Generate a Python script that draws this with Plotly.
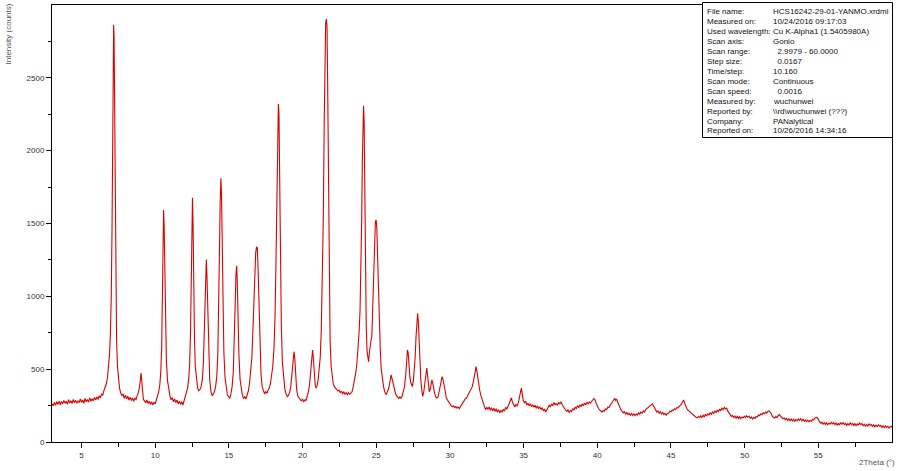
import plotly.graph_objects as go

# ---- data: (2theta, counts), by region ----
region_3_to_7 = [
    (3.00, 262), (3.08, 248), (3.16, 271), (3.24, 252), (3.32, 276), (3.40, 258), (3.48, 281), (3.56, 255),
    (3.64, 278), (3.72, 262), (3.80, 286), (3.88, 266), (3.96, 280), (4.04, 259), (4.12, 290), (4.20, 268),
    (4.28, 284), (4.36, 264), (4.44, 293), (4.52, 270), (4.60, 286), (4.68, 266), (4.76, 281), (4.84, 271),
    (4.92, 295), (5.00, 272), (5.08, 288), (5.16, 266), (5.24, 299), (5.32, 276), (5.40, 291), (5.48, 274),
    (5.56, 303), (5.64, 280), (5.72, 297), (5.80, 282), (5.88, 306), (5.96, 288), (6.04, 310), (6.12, 292),
    (6.20, 318), (6.28, 304), (6.36, 330), (6.44, 322), (6.52, 352), (6.60, 372),
    (6.68, 398), (6.76, 440), (6.84, 520), (6.90, 600), (6.96, 740), (7.02, 1000), (7.07, 1450), (7.11, 2100),
    (7.15, 2700), (7.18, 2864), (7.21, 2780), (7.25, 2250), (7.29, 1500), (7.33, 1000), (7.38, 700), (7.44, 520),
    (7.50, 430), (7.58, 370), (7.66, 338),
]

region_7_to_12 = [
    (7.74, 318), (7.82, 330), (7.90, 300), (7.98, 322), (8.06, 296), (8.14, 314), (8.22, 288), (8.30, 308),
    (8.38, 284), (8.46, 302), (8.54, 280), (8.62, 300), (8.70, 292), (8.78, 318), (8.86, 340), (8.94, 380),
    (9.00, 440), (9.04, 474), (9.08, 430), (9.13, 340), (9.20, 292), (9.28, 282), (9.36, 268), (9.44, 288),
    (9.52, 264), (9.60, 280), (9.68, 258), (9.76, 276), (9.84, 256), (9.92, 272), (10.00, 262), (10.08, 290),
    (10.16, 312), (10.24, 345), (10.32, 400), (10.38, 480), (10.44, 650), (10.49, 950), (10.53, 1350),
    (10.57, 1593), (10.61, 1480), (10.65, 1150), (10.70, 800), (10.76, 560), (10.84, 420), (10.92, 350),
    (11.00, 318), (11.08, 290), (11.16, 304), (11.24, 276), (11.32, 296), (11.40, 270), (11.48, 288),
    (11.56, 262), (11.64, 280), (11.72, 258), (11.80, 276), (11.88, 254), (11.96, 282),
]

region_12_to_17 = [
    (12.04, 300), (12.12, 330), (12.20, 370), (12.28, 440), (12.34, 540), (12.40, 760), (12.45, 1100),
    (12.49, 1500), (12.53, 1676), (12.57, 1500), (12.61, 1100), (12.66, 750), (12.72, 520), (12.80, 410),
    (12.88, 370), (12.96, 352), (13.04, 360), (13.12, 380), (13.20, 430), (13.27, 540), (13.33, 750),
    (13.38, 1000), (13.43, 1200), (13.47, 1252), (13.51, 1150), (13.56, 900), (13.62, 620), (13.70, 430),
    (13.78, 350), (13.86, 318), (13.94, 330), (14.02, 345), (14.10, 380), (14.18, 450), (14.25, 600),
    (14.31, 900), (14.36, 1300), (14.41, 1650), (14.46, 1811), (14.50, 1700), (14.55, 1300), (14.60, 900),
    (14.66, 620), (14.74, 440), (14.82, 360), (14.90, 322), (14.98, 312), (15.06, 300), (15.14, 330),
    (15.22, 380), (15.30, 480), (15.37, 680), (15.43, 950), (15.48, 1150), (15.53, 1210), (15.57, 1100),
    (15.62, 850), (15.68, 600), (15.76, 430), (15.84, 350), (15.92, 318), (16.00, 300), (16.08, 310),
    (16.16, 296), (16.24, 322), (16.32, 350), (16.40, 400), (16.48, 470), (16.56, 580), (16.63, 760),
    (16.70, 1000), (16.77, 1220), (16.82, 1300), (16.88, 1340), (16.93, 1330), (16.98, 1200), (17.04, 920),
    (17.10, 650), (17.18, 470), (17.26, 380), (17.34, 345), (17.42, 330),
]

region_17_to_23 = [
    (17.50, 345), (17.58, 335), (17.66, 355), (17.74, 370), (17.82, 400), (17.90, 450), (17.98, 520),
    (18.06, 640), (18.13, 850), (18.20, 1250), (18.26, 1800), (18.31, 2200), (18.36, 2321), (18.40, 2250),
    (18.45, 1800), (18.50, 1250), (18.56, 800), (18.63, 550), (18.72, 420), (18.80, 360), (18.88, 330),
    (18.96, 312), (19.04, 320), (19.12, 340), (19.20, 380), (19.28, 460), (19.35, 560), (19.42, 620),
    (19.47, 580), (19.53, 450), (19.60, 360), (19.68, 315), (19.76, 300), (19.84, 292), (19.92, 282),
    (20.00, 295), (20.08, 275), (20.16, 290), (20.24, 285), (20.32, 310), (20.40, 345), (20.48, 400),
    (20.55, 480), (20.62, 590), (20.68, 632), (20.73, 580), (20.79, 460), (20.86, 390), (20.92, 370),
    (20.98, 385), (21.05, 420), (21.12, 480), (21.20, 580), (21.27, 760), (21.34, 1050), (21.41, 1550),
    (21.47, 2200), (21.52, 2700), (21.57, 2880), (21.62, 2903), (21.66, 2850), (21.70, 2500), (21.75, 1800),
    (21.81, 1100), (21.87, 700), (21.94, 520), (22.00, 440), (22.08, 400), (22.16, 380), (22.24, 370),
    (22.32, 360), (22.40, 350), (22.48, 356), (22.56, 340), (22.64, 348), (22.72, 332), (22.80, 344),
    (22.88, 328), (22.96, 340),
]

region_23_to_30 = [
    (23.04, 325), (23.12, 338), (23.20, 328), (23.28, 336), (23.36, 345), (23.44, 380), (23.52, 420),
    (23.60, 470), (23.68, 530), (23.76, 620), (23.84, 760), (23.90, 900), (23.96, 1150), (24.01, 1500),
    (24.06, 1950), (24.10, 2250), (24.14, 2308), (24.18, 2200), (24.22, 1800), (24.27, 1200), (24.32, 800),
    (24.38, 620), (24.44, 560), (24.48, 551), (24.54, 620), (24.60, 690), (24.65, 700), (24.70, 720),
    (24.76, 900), (24.82, 1150), (24.88, 1400), (24.94, 1510), (24.99, 1525), (25.04, 1470), (25.10, 1250),
    (25.16, 1000), (25.22, 800), (25.28, 620), (25.34, 500), (25.42, 420), (25.50, 378), (25.58, 345),
    (25.66, 325), (25.74, 340), (25.82, 360), (25.90, 395), (25.96, 430), (26.01, 460), (26.06, 440),
    (26.12, 410), (26.20, 370), (26.28, 345), (26.36, 320), (26.44, 305), (26.52, 298), (26.60, 310),
    (26.68, 300), (26.76, 315), (26.84, 340), (26.92, 380), (27.00, 460), (27.06, 560), (27.12, 632),
    (27.17, 610), (27.22, 520), (27.28, 450), (27.34, 410), (27.40, 385), (27.45, 380), (27.52, 420),
    (27.58, 480), (27.64, 580), (27.70, 720), (27.76, 840), (27.81, 884), (27.86, 820), (27.91, 680),
    (27.97, 520), (28.03, 420), (28.09, 360), (28.15, 312), (28.22, 340), (28.30, 390), (28.37, 460),
    (28.43, 508), (28.48, 460), (28.54, 390), (28.60, 345), (28.66, 360), (28.72, 390), (28.78, 426),
    (28.84, 400), (28.90, 360), (28.96, 335), (29.04, 310), (29.12, 302), (29.20, 310), (29.28, 350),
    (29.36, 400), (29.42, 430), (29.47, 449), (29.53, 430), (29.60, 400), (29.68, 350), (29.76, 300),
    (29.84, 285), (29.92, 272),
]

region_30_to_38 = [
    (30.00, 262), (30.08, 250), (30.16, 242), (30.24, 248), (30.32, 236), (30.40, 244), (30.48, 232),
    (30.56, 240), (30.64, 230), (30.72, 245), (30.80, 258), (30.88, 270), (30.96, 282), (31.04, 296),
    (31.12, 302), (31.20, 318), (31.28, 335), (31.36, 350), (31.44, 358), (31.52, 380), (31.60, 420),
    (31.67, 470), (31.73, 505), (31.78, 517), (31.84, 480), (31.90, 430), (31.96, 390), (32.02, 357),
    (32.10, 320), (32.18, 290), (32.26, 265), (32.34, 245), (32.42, 222), (32.50, 238), (32.58, 224),
    (32.66, 240), (32.74, 218), (32.82, 236), (32.90, 214), (32.98, 232), (33.06, 210), (33.14, 228),
    (33.22, 206), (33.30, 222), (33.38, 200), (33.46, 218), (33.54, 204), (33.62, 225), (33.70, 212),
    (33.78, 238), (33.86, 226), (33.94, 252), (34.02, 262), (34.10, 285), (34.17, 302), (34.24, 275),
    (34.32, 252), (34.40, 240), (34.48, 258), (34.56, 248), (34.64, 268), (34.72, 300), (34.79, 345),
    (34.85, 371), (34.91, 330), (34.98, 285), (35.06, 268), (35.14, 280), (35.22, 254), (35.30, 266),
    (35.38, 248), (35.46, 262), (35.54, 242), (35.62, 256), (35.70, 238), (35.78, 252), (35.86, 232),
    (35.94, 248), (36.02, 228), (36.10, 242), (36.18, 222), (36.26, 236), (36.34, 214), (36.42, 226),
    (36.50, 206), (36.58, 224), (36.66, 236), (36.74, 252), (36.82, 242), (36.90, 262), (36.98, 250),
    (37.06, 272), (37.14, 256), (37.22, 264), (37.30, 252), (37.38, 270), (37.46, 262), (37.54, 276),
    (37.62, 255), (37.70, 240), (37.78, 226), (37.86, 218), (37.94, 210),
]

region_38_to_47 = [
    (38.02, 222), (38.10, 200), (38.18, 216), (38.26, 210), (38.34, 230), (38.42, 218), (38.50, 240),
    (38.58, 228), (38.66, 250), (38.74, 236), (38.82, 256), (38.90, 242), (38.98, 262), (39.06, 250),
    (39.14, 268), (39.22, 254), (39.30, 272), (39.38, 262), (39.46, 276), (39.54, 268), (39.62, 282),
    (39.70, 290), (39.78, 298), (39.84, 290), (39.92, 268), (40.00, 246), (40.08, 232), (40.16, 220),
    (40.24, 214), (40.32, 205), (40.40, 218), (40.48, 212), (40.56, 228), (40.64, 222), (40.72, 240),
    (40.80, 236), (40.88, 252), (40.96, 262), (41.04, 278), (41.12, 290), (41.18, 298), (41.24, 286),
    (41.30, 295), (41.36, 280), (41.44, 256), (41.52, 236), (41.60, 222), (41.68, 212), (41.76, 200),
    (41.84, 208), (41.92, 192), (42.00, 202), (42.08, 188), (42.16, 198), (42.24, 184), (42.32, 196),
    (42.40, 182), (42.48, 194), (42.56, 180), (42.64, 192), (42.72, 184), (42.80, 200), (42.88, 190),
    (42.96, 206), (43.04, 198), (43.12, 214), (43.20, 206), (43.28, 222), (43.36, 230), (43.44, 236),
    (43.52, 246), (43.60, 255), (43.68, 258), (43.74, 262), (43.80, 250), (43.88, 232), (43.96, 220),
    (44.04, 206), (44.12, 214), (44.20, 198), (44.28, 208), (44.36, 192), (44.44, 202), (44.52, 188),
    (44.60, 196), (44.68, 184), (44.76, 196), (44.84, 198), (44.92, 212), (45.00, 208), (45.08, 220),
    (45.16, 216), (45.24, 228), (45.32, 224), (45.40, 236), (45.48, 234), (45.56, 244), (45.64, 252),
    (45.72, 262), (45.80, 278), (45.86, 288), (45.92, 272), (45.98, 252), (46.06, 232), (46.14, 220),
    (46.22, 212), (46.30, 204), (46.38, 196), (46.46, 190), (46.54, 182), (46.62, 176), (46.70, 170),
    (46.78, 166), (46.86, 174), (46.94, 170),
]

region_47_to_54 = [
    (47.02, 180), (47.10, 168), (47.18, 184), (47.26, 172), (47.34, 190), (47.42, 178), (47.50, 196),
    (47.58, 184), (47.66, 200), (47.74, 190), (47.82, 206), (47.90, 196), (47.98, 212), (48.06, 202),
    (48.14, 218), (48.22, 208), (48.30, 226), (48.38, 214), (48.46, 232), (48.54, 222), (48.62, 238),
    (48.70, 226), (48.78, 232), (48.86, 212), (48.94, 200), (49.02, 186), (49.10, 176), (49.18, 182),
    (49.26, 168), (49.34, 178), (49.42, 164), (49.50, 176), (49.58, 162), (49.66, 174), (49.74, 160),
    (49.82, 172), (49.90, 166), (49.98, 178), (50.06, 168), (50.14, 180), (50.22, 170), (50.30, 176),
    (50.38, 162), (50.46, 172), (50.54, 158), (50.62, 170), (50.70, 162), (50.78, 176), (50.86, 172),
    (50.94, 186), (51.02, 180), (51.10, 194), (51.18, 188), (51.26, 200), (51.34, 194), (51.42, 206),
    (51.50, 198), (51.58, 210), (51.66, 214), (51.72, 206), (51.80, 196), (51.88, 176), (51.96, 170),
    (52.04, 164), (52.12, 176), (52.20, 168), (52.28, 182), (52.36, 188), (52.44, 178), (52.52, 170),
    (52.60, 160), (52.68, 166), (52.76, 152), (52.84, 162), (52.92, 148), (53.00, 160), (53.08, 146),
    (53.16, 158), (53.24, 144), (53.32, 156), (53.40, 142), (53.48, 154), (53.56, 146), (53.64, 158),
    (53.72, 148), (53.80, 160), (53.88, 146), (53.96, 156),
]

region_54_to_60 = [
    (54.04, 142), (54.12, 152), (54.20, 140), (54.28, 150), (54.36, 138), (54.44, 148), (54.52, 142),
    (54.60, 154), (54.68, 150), (54.76, 162), (54.84, 170), (54.92, 168), (55.00, 156), (55.08, 142),
    (55.16, 128), (55.24, 136), (55.32, 122), (55.40, 134), (55.48, 120), (55.56, 132), (55.64, 118),
    (55.72, 130), (55.80, 122), (55.88, 136), (55.96, 124), (56.04, 134), (56.12, 120), (56.20, 130),
    (56.28, 116), (56.36, 128), (56.44, 118), (56.52, 132), (56.60, 122), (56.68, 134), (56.76, 120),
    (56.84, 128), (56.92, 114), (57.00, 126), (57.08, 116), (57.16, 132), (57.24, 120), (57.32, 128),
    (57.40, 114), (57.48, 126), (57.56, 112), (57.64, 124), (57.72, 116), (57.80, 130), (57.88, 120),
    (57.96, 126), (58.04, 112), (58.12, 122), (58.20, 108), (58.28, 120), (58.36, 110), (58.44, 124),
    (58.52, 114), (58.60, 120), (58.68, 106), (58.76, 118), (58.84, 104), (58.92, 116), (59.00, 106),
    (59.08, 118), (59.16, 108), (59.24, 114), (59.32, 100), (59.40, 112), (59.48, 98), (59.56, 110),
    (59.64, 100), (59.72, 108), (59.80, 96), (59.88, 106), (59.96, 104), (60.00, 112),
]

x_tick_values = [5, 10, 15, 20, 25, 30, 35, 40, 45, 50, 55]
x_minor_values = [7.5, 12.5, 17.5, 22.5, 27.5, 32.5, 37.5, 42.5, 47.5, 52.5, 57.5]
y_tick_values = [0, 500, 1000, 1500, 2000, 2500]
y_minor_values = [250, 750, 1250, 1750, 2250, 2750]

info_labels = ["File name:", "Measured on:", "Used wavelength:", "Scan axis:", "Scan range:",
               "Step size:", "Time/step:", "Scan mode:", "Scan speed:", "Measured by:",
               "Reported by:", "Company:", "Reported on:"]
info_values = ["HCS16242-29-01-YANMO.xrdml", "10/24/2016 09:17:03", "Cu K-Alpha1 (1.5405980A)",
               "Gonio", "\u00a0\u00a02.9979 - 60.0000", "\u00a0\u00a00.0167", "10.160", "Continuous",
               "\u00a0\u00a00.0016", "wuchunwei", "\\\\rd\\wuchunwei (???)", "PANalytical",
               "10/26/2016 14:34:16"]

# ---- assemble ----
points = (region_3_to_7 + region_7_to_12 + region_12_to_17 + region_17_to_23 + region_23_to_30
          + region_30_to_38 + region_38_to_47 + region_47_to_54 + region_54_to_60)
two_theta = [p[0] for p in points]
counts = [p[1] for p in points]

W, H = 900, 471
ML, MR, MT, MB = 52, 8, 5, 29
PW, PH = W - ML - MR, H - MT - MB


def px(xp):
    return (xp - ML) / PW


def py(yp):
    return (H - MB - yp) / PH


FONT = "Liberation Sans, Arial, sans-serif"

fig = go.Figure()
fig.add_trace(go.Scatter(x=two_theta, y=counts, mode="lines",
                         line=dict(color="#dd0000", width=1.1), showlegend=False,
                         hoverinfo="x+y"))

axis_common = dict(showgrid=False, zeroline=False, showline=True, linecolor="#000000",
                   linewidth=1, mirror=True, ticks="outside", tickcolor="#000000",
                   ticklen=5, tickwidth=1, tickfont=dict(family=FONT, size=8, color="#333333"))

fig.update_xaxes(range=[2.9979, 60.0], tickmode="array", tickvals=x_tick_values,
                 minor=dict(tickmode="array", tickvals=x_minor_values, ticks="outside",
                            ticklen=4, tickcolor="#000000"),
                 **axis_common)
fig.update_yaxes(range=[0, 3000], tickmode="array", tickvals=y_tick_values,
                 minor=dict(tickmode="array", tickvals=y_minor_values, ticks="outside",
                            ticklen=3, tickcolor="#000000"),
                 **axis_common)

annotations = [
    dict(text="Intensity (counts)", textangle=-90, xref="paper", yref="paper",
         x=px(8), y=py(2), xanchor="center", yanchor="top", showarrow=False,
         font=dict(family=FONT, size=8, color="#555555")),
    dict(text="2Theta (\u00b0)", xref="paper", yref="paper", x=px(897), y=py(462),
         xanchor="right", yanchor="middle", showarrow=False,
         font=dict(family=FONT, size=8, color="#555555")),
]
for i, (lab, val) in enumerate(zip(info_labels, info_values)):
    yy = py(11.7 + 9.94 * i)
    annotations.append(dict(text=lab, xref="paper", yref="paper", x=px(705), y=yy,
                            xanchor="left", yanchor="middle", showarrow=False,
                            font=dict(family=FONT, size=8, color="#111111")))
    annotations.append(dict(text=val, xref="paper", yref="paper", x=px(770.5), y=yy,
                            xanchor="left", yanchor="middle", showarrow=False,
                            font=dict(family=FONT, size=8, color="#111111")))

fig.update_layout(
    width=W, height=H,
    margin=dict(l=ML, r=MR, t=MT, b=MB),
    paper_bgcolor="white", plot_bgcolor="white",
    showlegend=False,
    shapes=[dict(type="rect", xref="paper", yref="paper",
                 x0=px(702.5), x1=px(892.5), y0=py(2.5), y1=py(137.5),
                 line=dict(color="#000000", width=1), fillcolor="white", layer="above")],
    annotations=annotations,
)

fig.write_html("out.html",
               config={"displayModeBar": False},
               post_script="document.body.style.margin='0';document.body.style.overflow='hidden';")
